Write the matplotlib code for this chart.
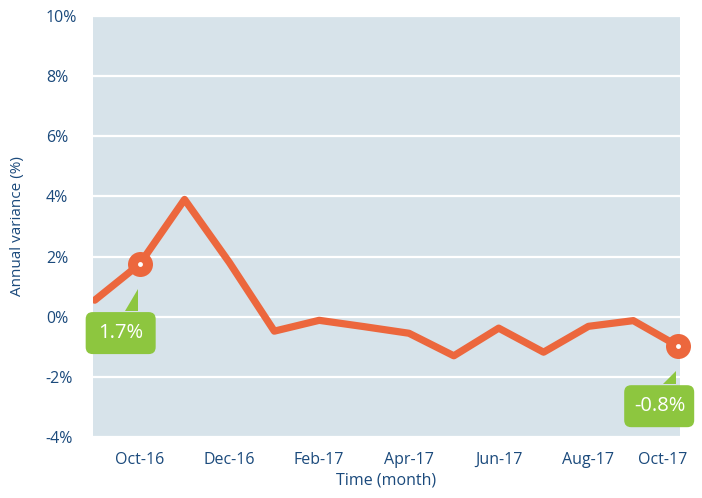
import matplotlib
matplotlib.use("Agg")
import matplotlib.pyplot as plt
from matplotlib.patches import FancyBboxPatch, Polygon
from matplotlib.transforms import ScaledTranslation

months = ["Sep-16", "Oct-16", "Nov-16", "Dec-16", "Jan-17", "Feb-17", "Mar-17",
          "Apr-17", "May-17", "Jun-17", "Jul-17", "Aug-17", "Sep-17", "Oct-17"]
variance = [0.55, 1.75, 3.9, 1.8, -0.48, -0.12, -0.33, -0.55, -1.3, -0.38,
            -1.18, -0.32, -0.13, -0.98]
yticks = [-4, -2, 0, 2, 4, 6, 8, 10]
xtick_idx = [1, 3, 5, 7, 9, 11, 13]
callout_idx = [1, 13]
callout_text = ["1.7%", "-0.8%"]

BG = "#d7e3ea"
LINE = "#ec673d"
GREEN = "#8dc63f"
TXT = "#1b4a7c"
FONT = ["Open Sans", "DejaVu Sans"]
plt.rcParams["font.family"] = FONT

fig = plt.figure(figsize=(7.02, 4.98), dpi=100)
ax = fig.add_axes([93 / 702, 1 - 437 / 498, (680 - 93) / 702, (437 - 16) / 498])
ax.set_facecolor(BG)
for s in ax.spines.values():
    s.set_visible(False)

x = list(range(len(months)))
ax.plot(x, variance, color=LINE, lw=5.2, solid_capstyle="round",
        solid_joinstyle="round", zorder=3)
cx = [x[i] for i in callout_idx]
cy = [variance[i] for i in callout_idx]
ax.plot(cx, cy, "o", color=LINE, ms=18, mec="none", zorder=4, clip_on=False)
ax.plot(cx, cy, "o", color="white", ms=3.5, mec="none", zorder=5, clip_on=False)

ax.set_xlim(-0.04, 13.04)
ax.set_ylim(-4, 10)
ax.set_yticks(yticks)
ax.set_yticklabels([f"{v}%" for v in yticks])
ax.set_xticks(xtick_idx)
ax.set_xticklabels([months[i] for i in xtick_idx])
ax.grid(axis="y", color="white", lw=1.6)
ax.set_axisbelow(True)
ax.tick_params(axis="both", length=0, colors=TXT, labelsize=11.5)
ax.tick_params(axis="y", pad=34)
ax.tick_params(axis="x", pad=11)
for lab in ax.get_yticklabels():
    lab.set_ha("left")
xl = ax.get_xticklabels()
xl[-1].set_transform(xl[-1].get_transform() + ScaledTranslation(-0.16, 0, fig.dpi_scale_trans))

ax.set_ylabel("Annual variance (%)", color=TXT, fontsize=11)
ax.yaxis.set_label_coords(-0.115, 0.5)
ax.set_xlabel("Time (month)", color=TXT, fontsize=11.5, labelpad=3)

# callouts (offsets in inches relative to the marker)
box_top = [0.48, 0.39]
for i, txt, top in zip(callout_idx, callout_text, box_top):
    tr = fig.dpi_scale_trans + ScaledTranslation(x[i], variance[i], ax.transData)
    box = FancyBboxPatch((-0.54, -top - 0.42), 0.70, 0.42,
                         boxstyle="round,pad=0,rounding_size=0.07",
                         fc=GREEN, ec="none", transform=tr, clip_on=False, zorder=6)
    ax.add_patch(box)
    tri = Polygon([(-0.15, -top + 0.01), (-0.02, -top + 0.01), (-0.02, -0.245)],
                  closed=True, fc=GREEN, ec="none", transform=tr, clip_on=False, zorder=6)
    ax.add_patch(tri)
    ax.text(-0.185, -top - 0.21, txt, transform=tr, ha="center", va="center",
            color="white", fontsize=14.5, zorder=7, clip_on=False)

fig.savefig("out.png", dpi=100)
